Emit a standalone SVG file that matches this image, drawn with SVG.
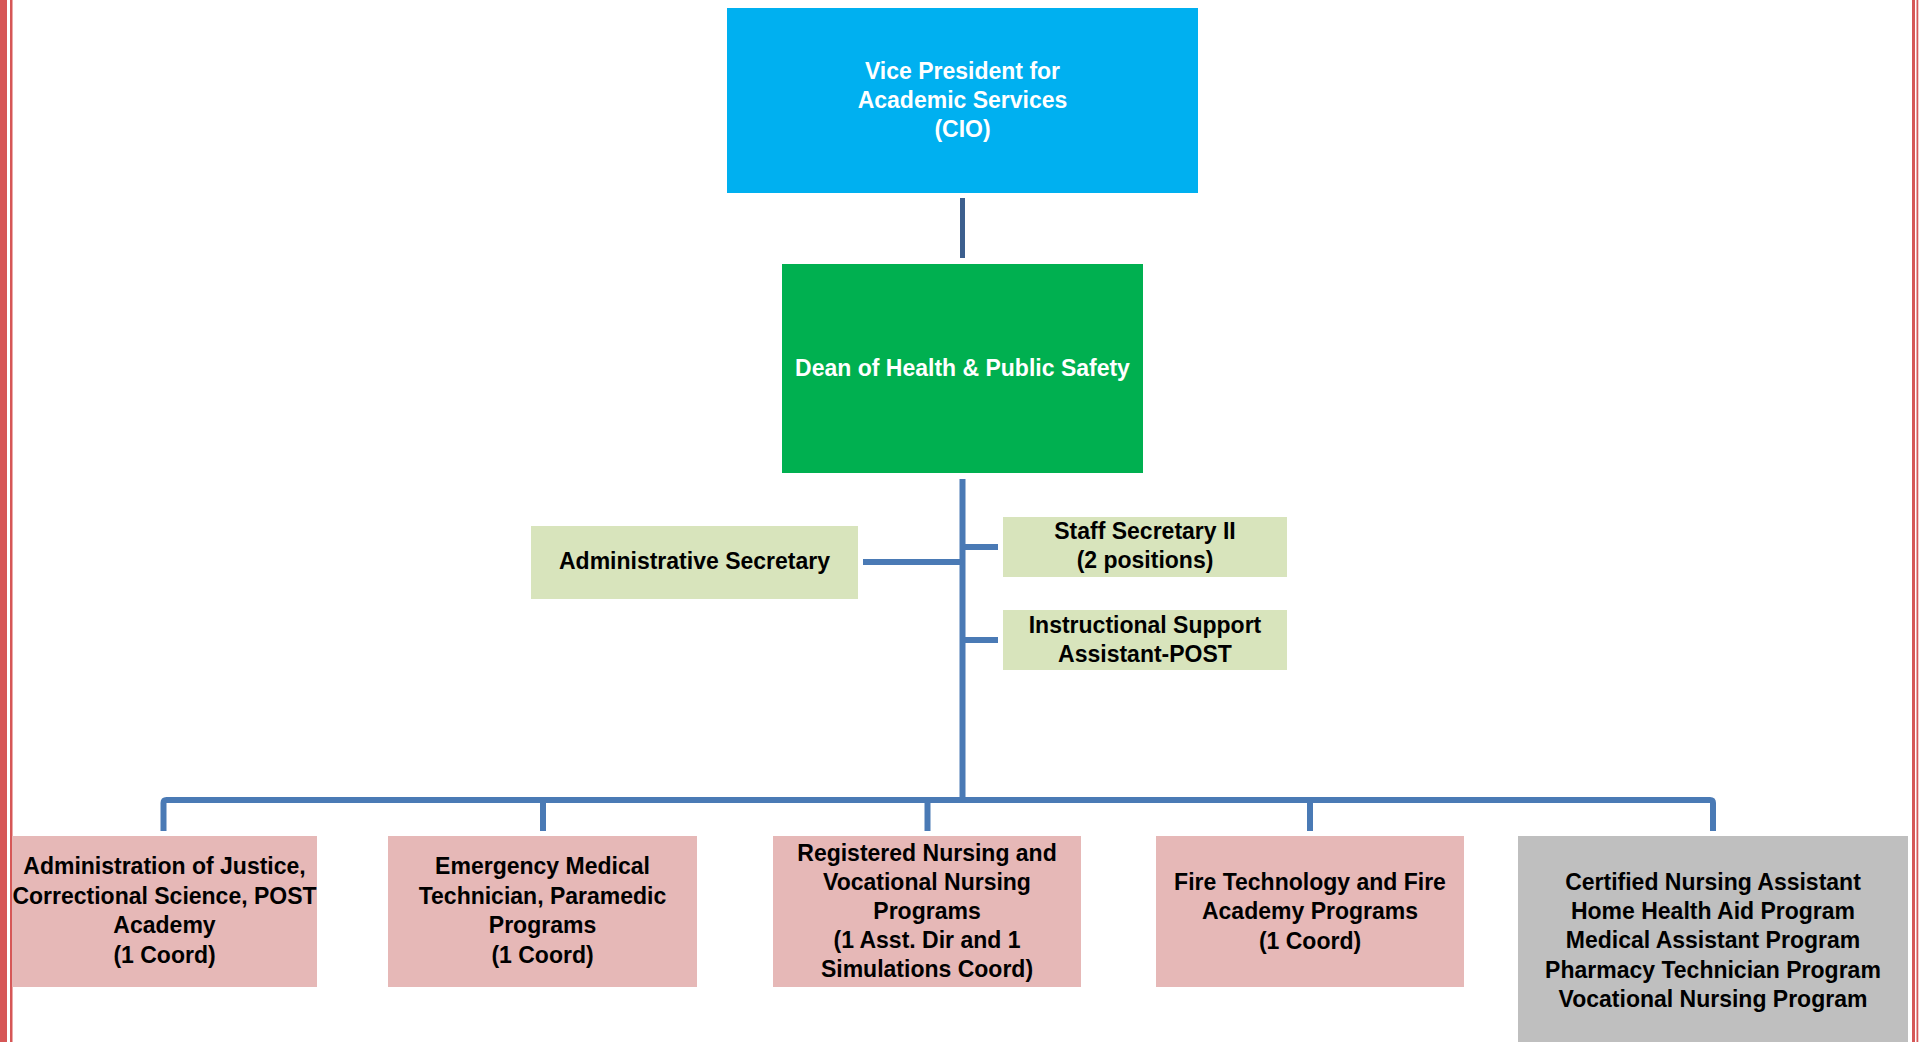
<svg xmlns="http://www.w3.org/2000/svg" width="1919" height="1042" viewBox="0 0 1919 1042">
<style>
  text { font-family: "Liberation Sans", Arial, sans-serif; font-weight: bold; font-size: 23px; text-anchor: middle; fill: #000000; }
  .w { fill: #FFFFFF; }
  .vp { fill: #00B0F0; }
  .dean { fill: #00B050; }
  .staff { fill: #D8E4BC; }
  .prog { fill: #E6B8B7; }
  .gray { fill: #BFBFBF; }
  .conn { stroke: #4A7AB5; stroke-width: 6; fill: none; }
  .conn-top { stroke: #3C5F8E; stroke-width: 5; fill: none; }
  .border { fill: #D65757; }
</style>
<rect x="0" y="0" width="1919" height="1042" fill="#FFFFFF"/>
<g id="page-border">
  <rect class="border" x="0" y="0" width="7" height="1042"/>
  <rect class="border" x="10" y="0" width="2.5" height="1042"/>
  <rect class="border" x="1912" y="0" width="3" height="1042"/>
  <rect class="border" x="1916.5" y="0" width="1.8" height="1042"/>
</g>
<g id="connectors">
  <line class="conn-top" x1="962.5" y1="198" x2="962.5" y2="258"/>
  <line class="conn" x1="962.5" y1="479" x2="962.5" y2="800"/>
  <line class="conn" x1="863" y1="562" x2="962.5" y2="562"/>
  <line class="conn" x1="962.5" y1="547" x2="998" y2="547"/>
  <line class="conn" x1="962.5" y1="640" x2="998" y2="640"/>
  <path class="conn" d="M163.5 831 V803 Q163.5 800 166.5 800 H1710 Q1713 800 1713 803 V831"/>
  <line class="conn" x1="543" y1="800" x2="543" y2="831"/>
  <line class="conn" x1="927.5" y1="800" x2="927.5" y2="831"/>
  <line class="conn" x1="1310" y1="800" x2="1310" y2="831"/>
</g>
<g id="vp">
  <rect class="vp" x="727" y="8" width="471" height="185"/>
  <text class="w" x="962.5" y="79">Vice President for</text>
  <text class="w" x="962.5" y="108">Academic Services</text>
  <text class="w" x="962.5" y="137">(CIO)</text>
</g>
<g id="dean">
  <rect class="dean" x="782" y="264" width="361" height="209"/>
  <text class="w" x="962.5" y="376">Dean of Health &amp; Public Safety</text>
</g>
<g id="admin-secretary">
  <rect class="staff" x="531" y="526" width="327" height="73"/>
  <text x="694.5" y="569">Administrative Secretary</text>
</g>
<g id="staff-secretary">
  <rect class="staff" x="1003" y="517" width="284" height="60"/>
  <text x="1145" y="539">Staff Secretary II</text>
  <text x="1145" y="568">(2 positions)</text>
</g>
<g id="instructional-support">
  <rect class="staff" x="1003" y="610" width="284" height="60"/>
  <text x="1145" y="633">Instructional Support</text>
  <text x="1145" y="662">Assistant-POST</text>
</g>
<g id="justice">
  <rect class="prog" x="12" y="836" width="305" height="151"/>
  <text x="164.5" y="874" font-size="22">Administration of Justice,</text>
  <text x="164.5" y="904" font-size="22">Correctional Science, POST</text>
  <text x="164.5" y="933" font-size="22">Academy</text>
  <text x="164.5" y="963" font-size="22">(1 Coord)</text>
</g>
<g id="emt">
  <rect class="prog" x="388" y="836" width="309" height="151"/>
  <text x="542.5" y="874">Emergency Medical</text>
  <text x="542.5" y="904">Technician, Paramedic</text>
  <text x="542.5" y="933">Programs</text>
  <text x="542.5" y="963">(1 Coord)</text>
</g>
<g id="nursing">
  <rect class="prog" x="773" y="836" width="308" height="151"/>
  <text x="927" y="861">Registered Nursing and</text>
  <text x="927" y="890">Vocational Nursing</text>
  <text x="927" y="919">Programs</text>
  <text x="927" y="948">(1 Asst. Dir and 1</text>
  <text x="927" y="977">Simulations Coord)</text>
</g>
<g id="fire">
  <rect class="prog" x="1156" y="836" width="308" height="151"/>
  <text x="1310" y="890">Fire Technology and Fire</text>
  <text x="1310" y="919">Academy Programs</text>
  <text x="1310" y="949">(1 Coord)</text>
</g>
<g id="allied-health">
  <rect class="gray" x="1518" y="836" width="390" height="206"/>
  <text x="1713" y="890">Certified Nursing Assistant</text>
  <text x="1713" y="919">Home Health Aid Program</text>
  <text x="1713" y="948">Medical Assistant Program</text>
  <text x="1713" y="978">Pharmacy Technician Program</text>
  <text x="1713" y="1007">Vocational Nursing Program</text>
</g>
</svg>
